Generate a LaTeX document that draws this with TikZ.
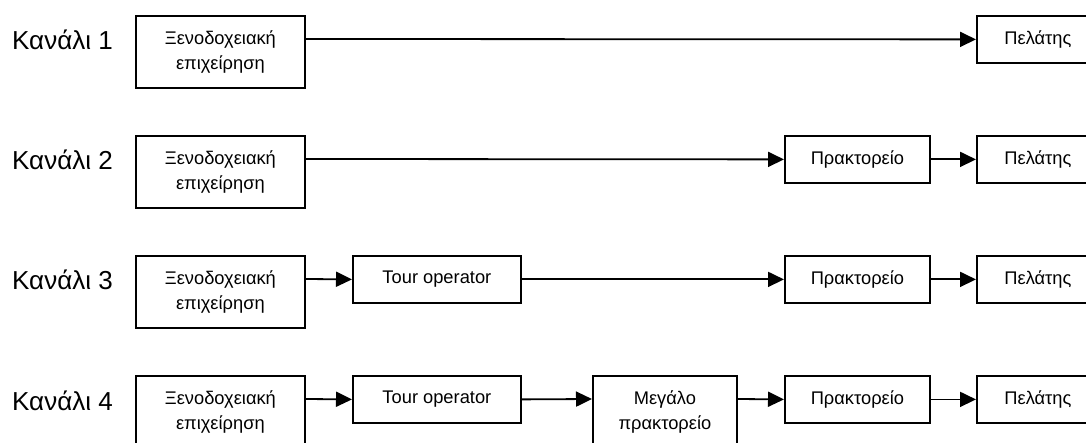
\documentclass[tikz,border=0pt]{standalone}
\usepackage{fontspec}
\setmainfont{Liberation Sans}
\usetikzlibrary{arrows.meta}
\begin{document}
\begin{tikzpicture}[x=1pt,y=-1pt,
  box/.style={draw, line width=1.8pt, anchor=north west, inner sep=0pt,
    font=\fontsize{18.3}{25}\selectfont, align=center},
  one/.style={box, minimum height=47pt},
  two/.style={box, minimum height=72pt},
  lab/.style={anchor=base west, inner sep=0pt, font=\fontsize{26}{30}\selectfont},
  conn/.style={line width=1.8pt, -{Triangle[length=16pt,width=15pt]}}]
\useasboundingbox (0,0) rectangle (1086,443);
\clip (0,0) rectangle (1086,443);

% labels
\node[lab] (k1) at (12,50) {Κανάλι 1};
\node[lab] (k2) at (12,170) {Κανάλι 2};
\node[lab] (k3) at (12,290) {Κανάλι 3};
\node[lab] (k4) at (12,410) {Κανάλι 4};

% row 1
\node[two, minimum width=169pt] (a1) at (135,15) {Ξενοδοχειακή\\επιχείρηση};
\node[one, minimum width=122pt] (c1) at (976,15) {Πελάτης};
\draw[conn] ([yshift=-24pt]a1.north east) -- (c1.west);

% row 2
\node[two, minimum width=169pt] (a2) at (135,135) {Ξενοδοχειακή\\επιχείρηση};
\node[one, minimum width=145pt] (r2) at (784,135) {Πρακτορείο};
\node[one, minimum width=122pt] (c2) at (976,135) {Πελάτης};
\draw[conn] ([yshift=-24pt]a2.north east) -- (r2.west);
\draw[conn] (r2.east) -- (c2.west);

% row 3
\node[two, minimum width=169pt] (a3) at (135,255) {Ξενοδοχειακή\\επιχείρηση};
\node[one, minimum width=168pt] (t3) at (352,255) {Tour operator};
\node[one, minimum width=145pt] (r3) at (784,255) {Πρακτορείο};
\node[one, minimum width=122pt] (c3) at (976,255) {Πελάτης};
\draw[conn] ([yshift=-24pt]a3.north east) -- (t3.west);
\draw[conn] (t3.east) -- (r3.west);
\draw[conn] (r3.east) -- (c3.west);

% row 4
\node[two, minimum width=169pt] (a4) at (135,375) {Ξενοδοχειακή\\επιχείρηση};
\node[one, minimum width=168pt] (t4) at (352,375) {Tour operator};
\node[two, minimum width=144pt] (m4) at (592,375) {Μεγάλο\\πρακτορείο};
\node[one, minimum width=145pt] (r4) at (784,375) {Πρακτορείο};
\node[one, minimum width=122pt] (c4) at (976,375) {Πελάτης};
\draw[conn] ([yshift=-24pt]a4.north east) -- (t4.west);
\draw[conn] (t4.east) -- ([yshift=-24pt]m4.north west);
\draw[conn] ([yshift=-24pt]m4.north east) -- (r4.west);
\draw[conn] (r4.east) -- (c4.west);
\end{tikzpicture}
\end{document}
